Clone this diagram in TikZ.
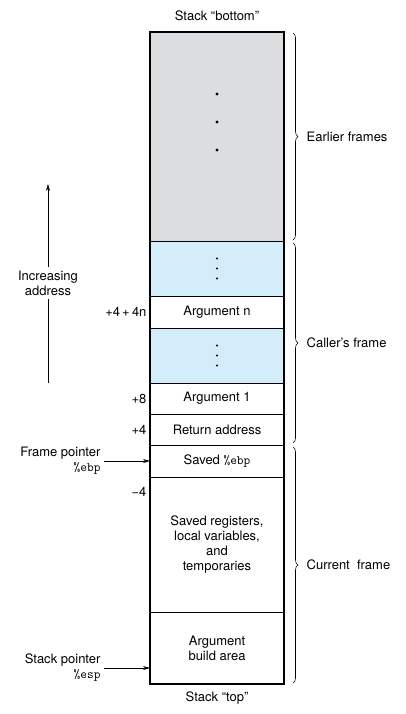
\documentclass[tikz,border=0pt]{standalone}
\usepackage{fontspec}
\setmainfont{TeX Gyre Heros}
\usepackage{tikz}
\usetikzlibrary{positioning, arrows.meta, decorations.pathreplacing}
\definecolor{gris}{RGB}{220,221,223}
\definecolor{bleu}{RGB}{212,237,250}

\begin{document}
\begin{tikzpicture}[x=1pt, y=-1pt,
    every node/.style={font=\fontsize{13}{15}\selectfont},
    case/.style={draw, line width=0.7pt, minimum width=134, inner sep=0pt, outer sep=0pt, align=center, anchor=north},
    fleche/.style={-{Stealth[length=7pt, width=4pt]}, line width=0.6pt},
    accolade/.style={decorate, decoration={brace, amplitude=5pt}, line width=0.6pt}]
  \useasboundingbox (0,0) rectangle (406,714);

  % Cases de la pile
  \node[case, fill=gris, minimum height=209] (gris) at (217,32) {};
  \foreach \nom/\haut/\fond/\texte [remember=\nom as \avant (initially gris)] in
    {bleuA/55/bleu/{}, argn/32/white/{Argument n}, bleuB/55/bleu/{},
     argun/31/white/{Argument 1}, retour/31/white/{Return address},
     ebp/32/white/{Saved {\ttfamily\%ebp}},
     locales/135/white/{Saved registers,\\local variables,\\and\\temporaries},
     build/72/white/{Argument\\build area}} {
    \node[case, fill=\fond, minimum height=\haut, below=0pt of \avant] (\nom) {\texte};
  }
  \draw[line width=1.1pt] (gris.north west) rectangle (build.south east);

  % Points
  \foreach \y in {94,122,150}
    \fill (217,\y) circle[radius=1.7pt];
  \foreach \b in {bleuA, bleuB}
    \foreach \d in {-10,0,10}
      \fill ([yshift=\d pt]\b.center) circle[radius=1.1pt];

  % Bas et haut
  \node (bas) at (217,16) {Stack “bottom”};
  \node (haut) at (217,698) {Stack “top”};

  % Decalages
  \node[left=0pt of argn] (dn) {+4\,+\,4n};
  \node[left=0pt of argun] (dhuit) {+8};
  \node[left=0pt of retour] (dquatre) {+4};
  \node[below left=7pt and 0pt of locales.north west] (dmoins) {−4};

  % Pointeurs
  \coordinate (pf) at ([xshift=-46pt]ebp.west);
  \draw[fleche] (pf) -- (ebp.west);
  \node[left=0pt of pf, align=right] (fp) {Frame pointer\\{\ttfamily\%ebp}};
  \coordinate (spbout) at ([yshift=16pt]build.south west);
  \coordinate (sp) at ([xshift=-46pt]spbout);
  \draw[fleche] (sp) -- (spbout);
  \node[left=0pt of sp, align=right] (spt) {Stack pointer\\{\ttfamily\%esp}};

  % Sens des adresses
  \node[align=center] (sens) at (48,283) {Increasing\\address};
  \coordinate (sensbas) at (48,383);
  \coordinate (senshaut) at (48,184);
  \draw[line width=0.6pt] (sensbas) -- (sens.south);
  \draw[fleche] (sens.north) -- (senshaut);

  % Accolades
  \draw[accolade] ([xshift=9pt, yshift=-1pt]gris.north east) -- ([xshift=9pt, yshift=1pt]gris.south east)
    node[midway, right=10pt] (anciens) {Earlier frames};
  \draw[accolade] ([xshift=9pt, yshift=-2pt]bleuA.north east) -- ([xshift=9pt, yshift=2pt]retour.south east)
    node[midway, right=10pt] (appelant) {Caller’s frame};
  \draw[accolade] ([xshift=9pt, yshift=-2pt]ebp.north east) -- ([xshift=9pt, yshift=1pt]build.south east)
    node[midway, right=10pt] (courant) {Current\ \ frame};
\end{tikzpicture}
\end{document}
